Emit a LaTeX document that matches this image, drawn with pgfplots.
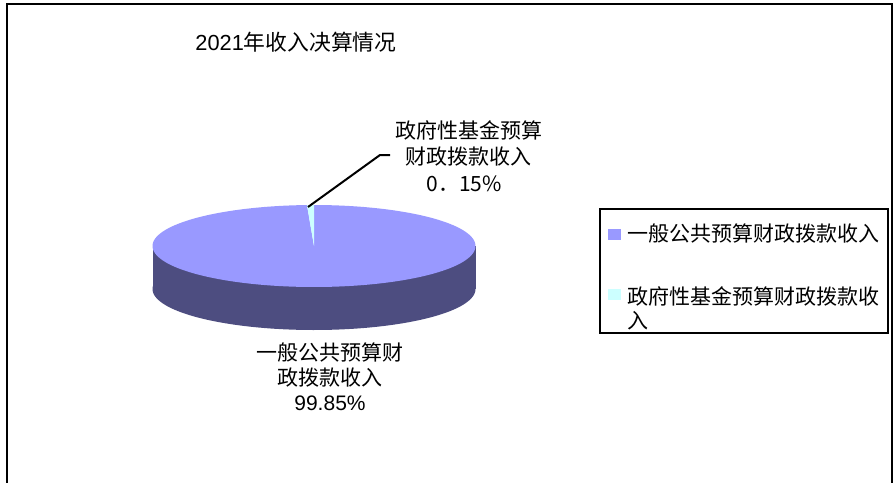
\documentclass[border=0pt]{standalone}
\usepackage{pgfplots}
\usepackage{pgfplotstable}
\pgfplotsset{compat=1.18}
\usepackage{fontspec}
\setmainfont{Liberation Sans}
\newfontfamily\cjk{Noto Sans CJK SC}
\definecolor{pieblue}{HTML}{9999FF}
\definecolor{pieside}{HTML}{4D4D80}
\definecolor{piecyan}{HTML}{CCFFFF}

\pgfplotstableread{
label value
A 99.85
B 0.15
}\piedata
\def\cx{314}
\def\cy{246}
\def\rx{161.5}
\def\ry{41}
\def\dep{43}

\begin{document}%
\pgfplotstablegetelem{1}{value}\of\piedata%
\let\valB\pgfplotsretval%
\pgfmathsetmacro\angB{max(\valB*3.6,2.5)}%
\pgfmathsetmacro\startA{90+\angB}%
\begin{tikzpicture}
\begin{axis}[
  scale only axis, width=447pt, height=241pt,
  xmin=0, xmax=894, ymin=0, ymax=482, y dir=reverse,
  hide axis, clip=false,
]
\coordinate (bbA) at (axis cs:0,0);
\coordinate (bbB) at (axis cs:894,482);
% frame
\addplot[black, line width=1pt] coordinates {(7,490) (7,4) (892,4) (892,490)};
% side of pie
\addplot[fill=pieside, draw=none, domain=0:360, samples=240, variable=\t]
  ({\cx+\rx*cos(\t)}, {\cy+\dep-\ry*sin(\t)}) -- cycle;
\addplot[fill=pieside, draw=none] coordinates {(\cx-\rx,\cy) (\cx+\rx,\cy) (\cx+\rx,\cy+\dep) (\cx-\rx,\cy+\dep)} -- cycle;
% top faces
\addplot[fill=pieblue, draw=none, domain=\startA:450, samples=300, variable=\t]
  ({\cx+\rx*cos(\t)}, {\cy-\ry*sin(\t)}) -- (axis cs:\cx,\cy) -- cycle;
\addplot[fill=piecyan, draw=none, domain=90:\startA, samples=10, variable=\t]
  ({\cx+\rx*cos(\t)}, {\cy-\ry*sin(\t)}) -- (axis cs:\cx,\cy) -- cycle;
% leader line
\addplot[black, line width=1pt] coordinates {(308,207) (380,155) (390,155)};
% labels
\node[font=\fontsize{10.9}{12}\selectfont] at (axis cs:296,42) {2021{\cjk 年收入决算情况}};
\node[font=\cjk\fontsize{10.5}{12}\selectfont] at (axis cs:469,130) {政府性基金预算};
\node[font=\cjk\fontsize{10.5}{12}\selectfont] at (axis cs:468,157) {财政拨款收入};
\node[font=\cjk\fontsize{10.5}{12}\selectfont] at (axis cs:464,184) {0．15\%};
\node[font=\cjk\fontsize{10.5}{12}\selectfont] at (axis cs:330,352) {一般公共预算财};
\node[font=\cjk\fontsize{10.5}{12}\selectfont] at (axis cs:330,378) {政拨款收入};
\node[font=\fontsize{10.5}{12}\selectfont] at (axis cs:330,403) {99.85\%};
% legend
\addplot[black, line width=0.8pt] coordinates {(600,209) (888,209) (888,333) (600,333)} -- cycle;
\addplot[fill=pieblue, draw=none] coordinates {(608,229) (621,229) (621,240) (608,240)} -- cycle;
\addplot[fill=piecyan, draw=none] coordinates {(608,289) (621,289) (621,300) (608,300)} -- cycle;
\node[anchor=west, inner sep=0pt, font=\cjk\fontsize{10.5}{12}\selectfont] at (axis cs:627,234) {一般公共预算财政拨款收入};
\node[anchor=west, inner sep=0pt, font=\cjk\fontsize{10.5}{12}\selectfont] at (axis cs:627,296) {政府性基金预算财政拨款收};
\node[anchor=west, inner sep=0pt, font=\cjk\fontsize{10.5}{12}\selectfont] at (axis cs:627,321) {入};
\end{axis}
\pgfresetboundingbox
\useasboundingbox (bbA) rectangle (bbB);
\end{tikzpicture}%
\end{document}
